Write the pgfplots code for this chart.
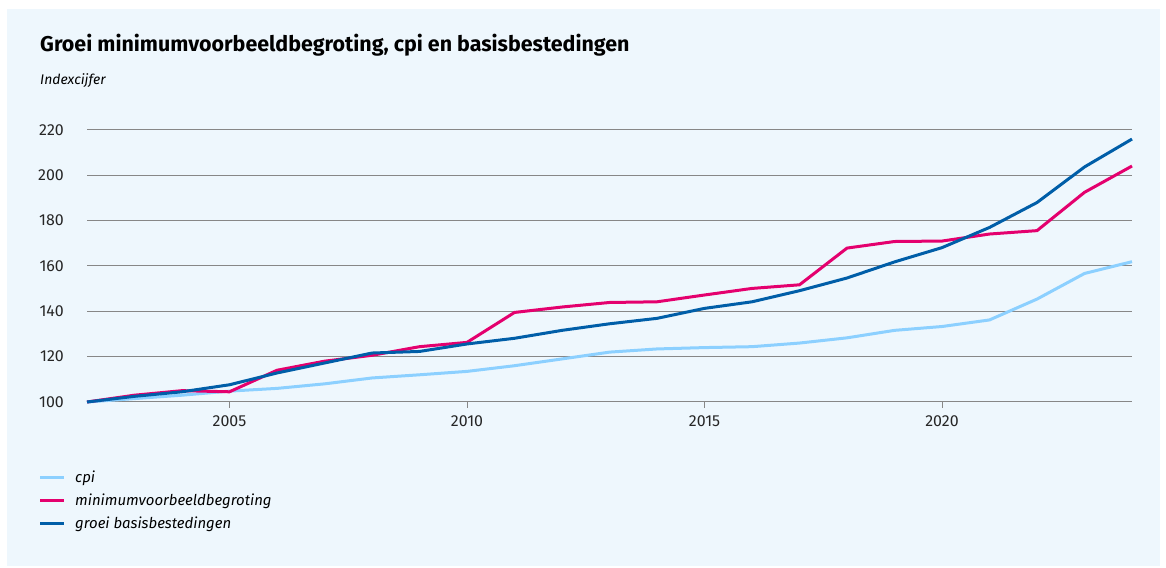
\documentclass[border=0pt]{standalone}
\usepackage{pgfplots}
\pgfplotsset{compat=1.18}
\usepackage{fontspec}
\setmainfont{Fira Sans}
\definecolor{bgc}{RGB}{238,247,253}
\definecolor{cpic}{RGB}{140,208,255}
\definecolor{minc}{RGB}{228,0,110}
\definecolor{basc}{RGB}{0,94,168}
\definecolor{gridc}{RGB}{135,135,135}
\begin{document}
\begin{tikzpicture}[x=1bp,y=1bp]
\fill[white] (0,0) rectangle (1166,568);
\fill[bgc] (7,2) rectangle (1160,559);
\node[anchor=base west,inner sep=0pt,font=\fontsize{21.5}{26}\selectfont\bfseries] at (40,516) {Groei minimumvoorbeeldbegroting, cpi en basisbestedingen};
\node[anchor=base west,inner sep=0pt,font=\fontsize{14}{17}\selectfont\itshape] at (40,483) {Indexcijfer};
\begin{axis}[
  at={(87bp,166bp)}, anchor=south west,
  scale only axis, width=1045bp, height=272bp,
  xmin=2002, xmax=2024, ymin=100, ymax=220,
  xtick={2005,2010,2015,2020}, ytick={100,120,...,220},
  xtick pos=lower, ytick pos=left,
  axis line style={draw=none},
  ymajorgrids, grid style={gridc, line width=1bp},
  xtick style={gridc, line width=1bp},
  ytick style={draw=none},
  tick align=outside, major tick length=6bp,
  /pgf/number format/1000 sep={},
  /pgf/number format/assume math mode=true,
  tick label style={font=\fontsize{16}{19}\selectfont, text=black!85},
  yticklabel style={inner sep=0pt, xshift=-17bp},
  xticklabel style={inner sep=0pt, yshift=-7bp},
  clip=false,
]
\addplot[cpic, line width=3bp] coordinates {
(2002,100) (2003,101.5) (2004,103) (2005,104.8) (2006,106) (2007,108) (2008,110.6) (2009,112) (2010,113.5) (2011,116) (2012,119) (2013,122) (2014,123.4) (2015,124) (2016,124.4) (2017,126) (2018,128.3) (2019,131.6) (2020,133.3) (2021,136.2) (2022,145.4) (2023,156.7) (2024,161.9)};
\addplot[minc, line width=3bp] coordinates {
(2002,100) (2003,103) (2004,105) (2005,104.5) (2006,114) (2007,118) (2008,120.6) (2009,124.4) (2010,126.3) (2011,139.5) (2012,141.9) (2013,143.9) (2014,144.2) (2015,147.2) (2016,150.1) (2017,151.7) (2018,167.9) (2019,170.8) (2020,171) (2021,174.1) (2022,175.6) (2023,192.5) (2024,204.1)};
\addplot[basc, line width=3bp] coordinates {
(2002,100) (2003,102.5) (2004,104.5) (2005,107.6) (2006,112.8) (2007,117.2) (2008,121.6) (2009,122.3) (2010,125.6) (2011,128.1) (2012,131.6) (2013,134.5) (2014,136.9) (2015,141.3) (2016,144.2) (2017,149.1) (2018,154.7) (2019,161.8) (2020,168.1) (2021,177) (2022,188) (2023,203.7) (2024,216)};
\end{axis}
\draw[cpic, line width=3bp] (40,90) -- (64,90);
\draw[minc, line width=3bp] (40,67) -- (64,67);
\draw[basc, line width=3bp] (40,44) -- (64,44);
\begin{scope}[every node/.style={anchor=west,inner sep=0pt,font=\fontsize{15}{18}\selectfont\itshape}]
\node at (75,90) {cpi};
\node at (75,67) {minimumvoorbeeldbegroting};
\node at (75,44) {groei basisbestedingen};
\end{scope}
\end{tikzpicture}
\end{document}
